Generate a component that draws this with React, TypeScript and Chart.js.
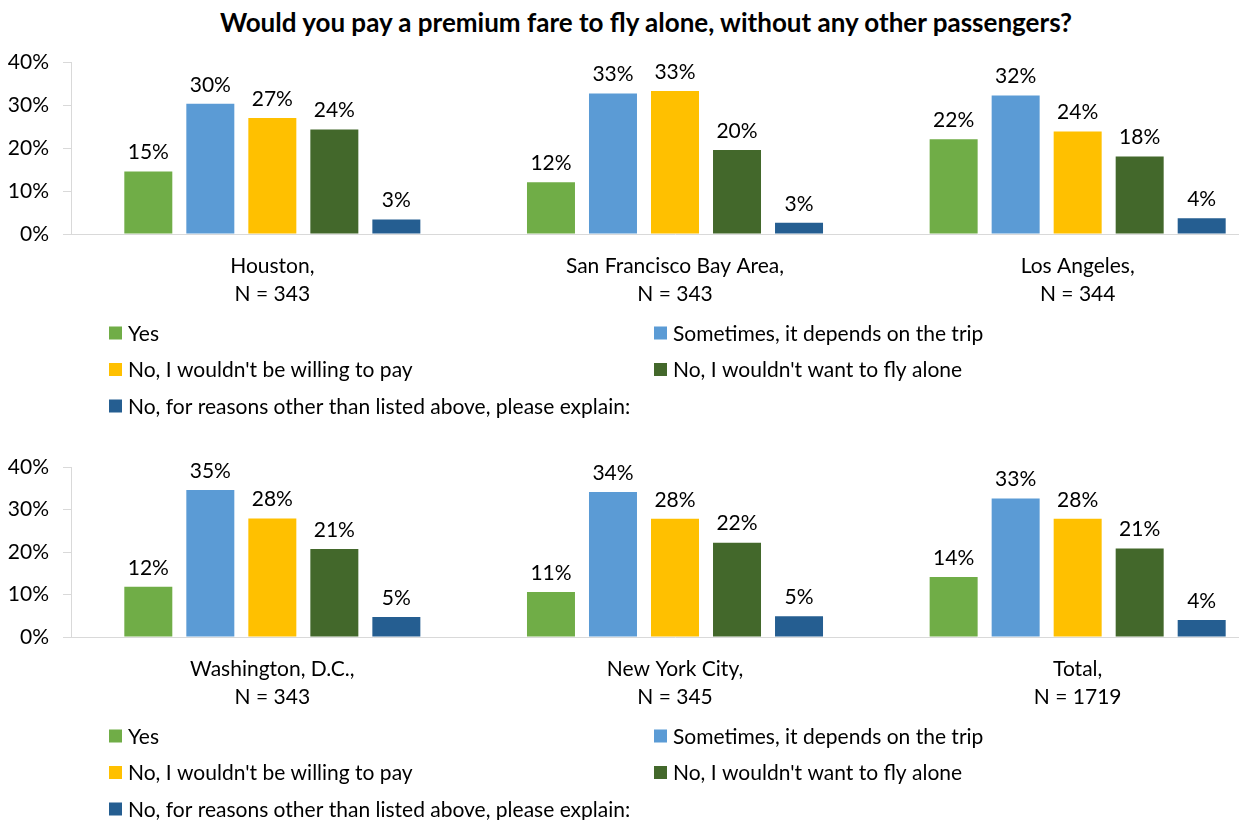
import React, { useEffect, useRef } from "react";
import { Chart, registerables } from "chart.js";

Chart.register(...registerables);

const seriesNames = [
  "Yes",
  "Sometimes, it depends on the trip",
  "No, I wouldn't be willing to pay",
  "No, I wouldn't want to fly alone",
  "No, for reasons other than listed above, please explain:",
];
const seriesColors = ["#70AD47", "#5B9BD5", "#FFC000", "#43682B", "#255E91"];

const categoriesTop = [
  ["Houston,", "N = 343"],
  ["San Francisco Bay Area,", "N = 343"],
  ["Los Angeles,", "N = 344"],
];
const yesTop = [14.6, 12.1, 22.1];
const sometimesTop = [30.4, 32.8, 32.3];
const willingTop = [27.1, 33.4, 23.9];
const aloneTop = [24.4, 19.6, 18.1];
const otherTop = [3.4, 2.6, 3.7];

const categoriesBottom = [
  ["Washington, D.C.,", "N = 343"],
  ["New York City,", "N = 345"],
  ["Total,", "N = 1719"],
];
const yesBottom = [11.8, 10.6, 14.1];
const sometimesBottom = [34.6, 34.1, 32.6];
const willingBottom = [27.9, 27.8, 27.8];
const aloneBottom = [20.7, 22.2, 20.8];
const otherBottom = [4.7, 4.9, 4.0];

const yTicks = [0, 10, 20, 30, 40];

const FONT = "Lato, 'Open Sans', sans-serif";
const FS = 21;

const dataLabelPlugin = {
  id: "dataLabels",
  afterDatasetsDraw(chart: any) {
    const ctx = chart.ctx;
    ctx.save();
    ctx.font = `${FS}px ${FONT}`;
    ctx.fillStyle = "#000";
    ctx.textAlign = "center";
    ctx.textBaseline = "middle";
    chart.data.datasets.forEach((ds: any, i: number) => {
      const meta = chart.getDatasetMeta(i);
      meta.data.forEach((el: any, j: number) => {
        ctx.fillText(Math.round(ds.data[j]) + "%", el.x, el.y - 19);
      });
    });
    ctx.restore();
  },
};

const legendPlugin = {
  id: "gridLegend",
  afterDraw(chart: any) {
    const ctx = chart.ctx;
    const area = chart.chartArea;
    ctx.save();
    ctx.font = `${FS}px ${FONT}`;
    ctx.textAlign = "left";
    ctx.textBaseline = "middle";
    chart.data.datasets.forEach((ds: any, i: number) => {
      const col = i % 2;
      const row = Math.floor(i / 2);
      const x = col === 0 ? 109 : 654;
      const y = area.bottom + 99 + row * 36.5;
      ctx.fillStyle = ds.backgroundColor;
      ctx.fillRect(x, y - 6.5, 13, 13);
      ctx.fillStyle = "#000";
      ctx.fillText(ds.label, x + 19, y + 1);
    });
    ctx.restore();
  },
};

function makeConfig(labels: string[][], series: number[][], padTop: number, padBottom: number): any {
  return {
    type: "bar",
    data: {
      labels,
      datasets: series.map((d, i) => ({
        label: seriesNames[i],
        data: d,
        backgroundColor: seriesColors[i],
        borderWidth: 0,
        barPercentage: 0.774,
        categoryPercentage: 0.77,
      })),
    },
    options: {
      animation: false,
      responsive: false,
      devicePixelRatio: 1,
      layout: { padding: { top: padTop, bottom: padBottom, left: 0, right: 1 } },
      plugins: { legend: { display: false }, tooltip: { enabled: false }, title: { display: false } },
      scales: {
        x: {
          grid: { display: false },
          border: { display: true, color: "#d9d9d9", width: 1 },
          ticks: {
            color: "#000",
            font: { family: FONT, size: FS, lineHeight: "28px" },
            padding: 10,
            maxRotation: 0,
            autoSkip: false,
          },
          afterFit(scale: any) {
            scale.height = 80;
          },
        },
        y: {
          min: 0,
          max: 40,
          afterBuildTicks(scale: any) {
            scale.ticks = yTicks.map((v) => ({ value: v }));
          },
          grid: { display: true, drawOnChartArea: false, drawTicks: true, tickLength: 8, color: "#d9d9d9" },
          border: { display: true, color: "#d9d9d9", width: 1 },
          ticks: {
            color: "#000",
            font: { family: FONT, size: FS },
            padding: 14,
            callback: (v: any) => v + "%",
          },
          afterFit(scale: any) {
            scale.width = 71;
          },
        },
      },
    },
    plugins: [dataLabelPlugin, legendPlugin],
  };
}

function BarPanel(props: { top: number; height: number; labels: string[][]; series: number[][]; padTop: number; padBottom: number }) {
  const ref = useRef<HTMLCanvasElement>(null);
  useEffect(() => {
    if (!ref.current) return;
    const chart = new Chart(ref.current, makeConfig(props.labels, props.series, props.padTop, props.padBottom));
    return () => chart.destroy();
  }, []);
  return (
    <canvas
      ref={ref}
      width={1280}
      height={props.height}
      style={{ position: "absolute", left: 0, top: props.top, width: 1280, height: props.height }}
    />
  );
}

export default function App() {
  return (
    <div
      style={{
        position: "fixed",
        left: 0,
        top: 0,
        width: 1239,
        height: 820,
        overflow: "hidden",
        background: "#fff",
      }}
    >
      <div
        style={{
          position: "absolute",
          left: 0,
          top: 6,
          width: 1292,
          textAlign: "center",
          fontFamily: FONT,
          fontWeight: "bold",
          fontSize: 26,
          color: "#000",
          lineHeight: "32px",
        }}
      >
        Would you pay a premium fare to fly alone, without any other passengers?
      </div>
      <BarPanel
        top={36}
        height={394}
        labels={categoriesTop}
        series={[yesTop, sometimesTop, willingTop, aloneTop, otherTop]}
        padTop={22}
        padBottom={116}
      />
      <BarPanel
        top={440}
        height={380}
        labels={categoriesBottom}
        series={[yesBottom, sometimesBottom, willingBottom, aloneBottom, otherBottom]}
        padTop={27}
        padBottom={103}
      />
    </div>
  );
}
